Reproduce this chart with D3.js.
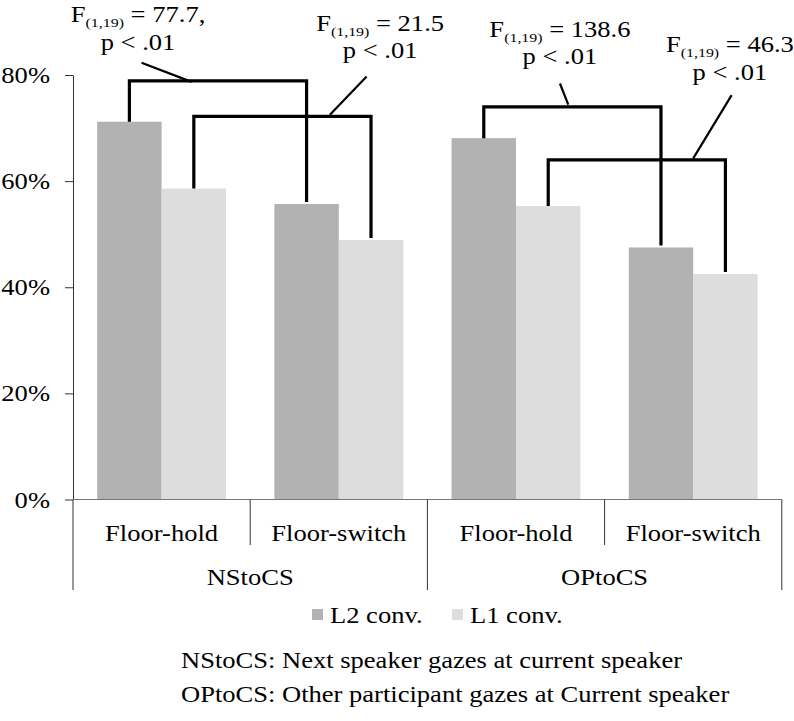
<!DOCTYPE html>
<html><head><meta charset="utf-8">
<script src="https://cdn.jsdelivr.net/npm/d3@7"></script>
<style>body{margin:0;background:#fff}text{font-family:"Liberation Serif","Times New Roman",serif;fill:#000}</style>
</head><body><svg id="c" width="794" height="721"></svg>
<script>
const groups = ["NStoCS", "OPtoCS"];
const conditions = ["Floor-hold", "Floor-switch"];
const seriesNames = ["L2 conv.", "L1 conv."];
const seriesColors = ["#b2b2b2", "#dddddd"];
const l2Values = [0.712, 0.557, 0.681, 0.475];
const l1Values = [0.586, 0.489, 0.553, 0.425];
const yTicks = [0, 0.2, 0.4, 0.6, 0.8];
// brackets: [category a, category b, series index, bracket level]
const brackets = [
  {a:0, b:1, s:0, level:0.789},
  {a:0, b:1, s:1, level:0.722},
  {a:2, b:3, s:0, level:0.740},
  {a:2, b:3, s:1, level:0.640}
];
// annotation texts + leader lines (x in category units, y in value units)
const annotations = [
  {stat:"77.7,", x:0.367, y1:0.900, y2:0.847, lx:[0.387,0.669], ly:[0.823,0.787]},
  {stat:"21.5",  x:1.733, y1:0.883, y2:0.832, lx:[1.657,1.450], ly:[0.797,0.725]},
  {stat:"138.6", x:2.748, y1:0.872, y2:0.820, lx:[2.748,2.795], ly:[0.784,0.744]},
  {stat:"46.3",  x:3.707, y1:0.843, y2:0.791, lx:[3.717,3.500], ly:[0.762,0.643]}
];
const notes = ["NStoCS: Next speaker gazes at current speaker",
               "OPtoCS: Other participant gazes at Current speaker"];

const svg = d3.select("#c");
const left = 73, right = 781.8, y0 = 499.5, yTop = 75;
const FS = 22.5, SX = 1.18;
const cats = [];
groups.forEach(g => conditions.forEach(c => cats.push(g + "|" + c)));
const x = d3.scaleBand().domain(cats).range([left, right]).padding(0);
const xs = d3.scaleBand().domain(seriesNames).range([0, x.bandwidth()]).paddingInner(0).paddingOuter(0.375);
const xc = d3.scaleLinear().domain([0, 4]).range([left, right]);
const y = d3.scaleLinear().domain([0, 0.8]).range([y0, yTop]);
const vals = [l2Values, l1Values];

// stretched text helper
function txt(parent, px, py, anchor) {
  return parent.append("text").attr("transform", `translate(${px},${py}) scale(${SX},1)`)
    .attr("text-anchor", anchor || "start").attr("font-size", FS);
}

// bars
seriesNames.forEach((s, si) => {
  svg.append("g").selectAll("rect").data(vals[si]).join("rect")
    .attr("x", (d, i) => x(cats[i]) + xs(s))
    .attr("width", xs.bandwidth())
    .attr("y", d => y(d))
    .attr("height", d => y(0) - y(d))
    .attr("fill", seriesColors[si]);
});

// y axis
const ya = svg.append("g").attr("transform", `translate(${left},0)`)
  .call(d3.axisLeft(y).tickValues(yTicks).tickFormat(d3.format(".0%")).tickSize(8).tickSizeOuter(0));
ya.select(".domain").attr("stroke", "#333");
ya.selectAll(".tick line").attr("stroke", "#333");
ya.selectAll(".tick text").attr("font-size", FS).attr("x", null).attr("dy", null)
  .attr("transform", `translate(-23,7.5) scale(${SX},1)`).attr("fill", "#000");

// x axis line
svg.append("line").attr("x1", left).attr("x2", right).attr("y1", y0).attr("y2", y0).attr("stroke", "#777").attr("stroke-width", 1.2);
// separators
d3.range(5).forEach(i => {
  const b = xc(i);
  svg.append("line").attr("x1", b).attr("x2", b).attr("y1", y0).attr("y2", i % 2 === 0 ? 590 : 545)
    .attr("stroke", "#333").attr("stroke-width", 1);
});
// condition labels
cats.forEach(c => {
  txt(svg, x(c) + x.bandwidth() / 2, 541, "middle").text(c.split("|")[1]);
});
groups.forEach((g, i) => {
  txt(svg, xc(i * 2 + 1), 585, "middle").text(g);
});

// brackets
const barCenter = (ci, si) => x(cats[ci]) + xs(seriesNames[si]) + xs.bandwidth() / 2;
brackets.forEach(b => {
  const xa = barCenter(b.a, b.s), xb = barCenter(b.b, b.s);
  const ya1 = y(vals[b.s][b.a]), yb1 = y(vals[b.s][b.b]) - 2, yl = y(b.level);
  svg.append("path").attr("d", `M${xa},${ya1}V${yl}H${xb}V${yb1}`)
    .attr("fill", "none").attr("stroke", "#000").attr("stroke-width", 3.2);
});
// annotations
annotations.forEach(a => {
  svg.append("line").attr("x1", xc(a.lx[0])).attr("y1", y(a.ly[0])).attr("x2", xc(a.lx[1])).attr("y2", y(a.ly[1]))
    .attr("stroke", "#000").attr("stroke-width", 2.2);
  const t = txt(svg, xc(a.x), y(a.y1), "middle");
  t.append("tspan").text("F");
  t.append("tspan").attr("font-size", FS * 0.6).attr("dy", 5).text("(1,19)");
  t.append("tspan").attr("dy", -5).text(" = " + a.stat);
  txt(svg, xc(a.x), y(a.y2), "middle").text("p < .01");
});

// legend
const legX = [312, 452];
seriesNames.forEach((s, i) => {
  svg.append("rect").attr("x", legX[i]).attr("y", 609).attr("width", 11).attr("height", 11).attr("fill", seriesColors[i]);
  txt(svg, legX[i] + 18, 623).text(s);
});
// notes
notes.forEach((n, i) => {
  txt(svg, 181, 668 + i * 34).text(n);
});
</script></body></html>
